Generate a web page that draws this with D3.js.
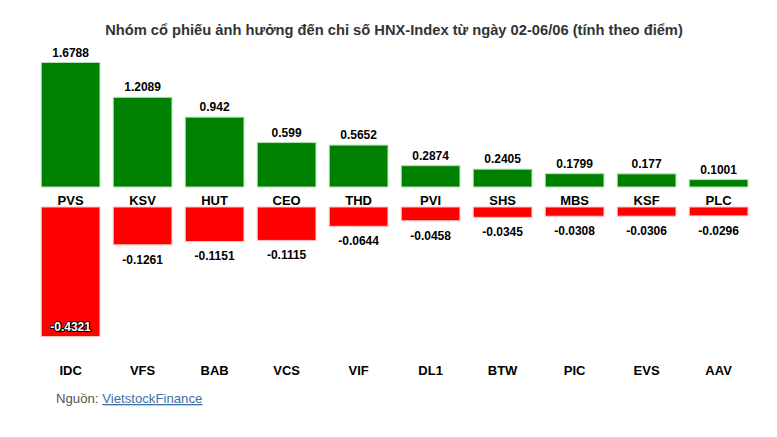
<!DOCTYPE html>
<html>
<head>
<meta charset="utf-8">
<script src="https://cdn.jsdelivr.net/npm/d3@7"></script>
<style>
  body { margin: 0; background: #fff; }
  svg { display: block; font-family: Arial, "Liberation Sans", sans-serif; }
  .src a { fill: #3d6fa8; text-decoration: underline; }
</style>
</head>
<body>
<div id="chart"></div>
<script>
// top gainers / losers on HNX-Index, 02-06/06 (points)
const upTickers = ["PVS", "KSV", "HUT", "CEO", "THD", "PVI", "SHS", "MBS", "KSF", "PLC"]
const upValues = [1.6788, 1.2089, 0.942, 0.599, 0.5652, 0.2874, 0.2405, 0.1799, 0.177, 0.1001]
const downTickers = ["IDC", "VFS", "BAB", "VCS", "VIF", "DL1", "BTW", "PIC", "EVS", "AAV"]
const downValues = [-0.4321, -0.1261, -0.1151, -0.1115, -0.0644, -0.0458, -0.0345, -0.0308, -0.0306, -0.0296]

const title = "Nhóm cổ phiếu ảnh hưởng đến chỉ số HNX-Index từ ngày 02-06/06 (tính theo điểm)"

const W = 777, H = 437

const svg = d3.select("#chart").append("svg")
  .attr("width", W)
  .attr("height", H)

// one band per rank, same slot for the gainer and the loser
const x = d3.scaleBand()
  .domain(d3.range(upTickers.length))
  .range([34.6, 754.6])
  .paddingInner(0.185)
  .paddingOuter(0.0925)

// top half and bottom half have their own scales (like the original)
const yUp = d3.scaleLinear().domain([0, d3.max(upValues)]).range([187, 62.5])
const yDown = d3.scaleLinear().domain([0, d3.max(downValues, d => -d)]).range([207, 336.5])

svg.append("text")
  .attr("x", 394)
  .attr("y", 35)
  .attr("text-anchor", "middle")
  .style("font-size", "14.7px")
  .style("font-weight", "bold")
  .style("fill", "#333")
  .text(title)

// green bars
const up = svg.append("g").attr("id", "up")
up.selectAll("rect")
  .data(upValues)
  .enter()
  .append("rect")
    .attr("x", (d, i) => x(i))
    .attr("width", x.bandwidth())
    .attr("y", d => yUp(d))
    .attr("height", d => yUp(0) - yUp(d))
    .style("fill", "#008000")
    .style("stroke", "#b5dfb5")
    .style("stroke-width", 1)

up.selectAll("text.val")
  .data(upValues)
  .enter()
  .append("text")
    .attr("class", "val")
    .attr("x", (d, i) => x(i) + x.bandwidth() / 2)
    .attr("y", d => yUp(d) - 6)
    .attr("text-anchor", "middle")
    .style("font-size", "12px")
    .style("font-weight", "bold")
    .style("fill", "#000")
    .text(d => d)

up.selectAll("text.tick")
  .data(upTickers)
  .enter()
  .append("text")
    .attr("class", "tick")
    .attr("x", (d, i) => x(i) + x.bandwidth() / 2)
    .attr("y", 205)
    .attr("text-anchor", "middle")
    .style("font-size", "13px")
    .style("font-weight", "bold")
    .style("fill", "#000")
    .text(d => d)

// red bars
const down = svg.append("g").attr("id", "down")
down.selectAll("rect")
  .data(downValues)
  .enter()
  .append("rect")
    .attr("x", (d, i) => x(i))
    .attr("width", x.bandwidth())
    .attr("y", yDown(0))
    .attr("height", d => yDown(-d) - yDown(0))
    .style("fill", "#ff0000")
    .style("stroke", "#ffc0c0")
    .style("stroke-width", 1)

// label goes under the bar, or inside it when there is no room left
const inside = d => yDown(-d) + 19 > 345
down.selectAll("text.val")
  .data(downValues)
  .enter()
  .append("text")
    .attr("class", "val")
    .attr("x", (d, i) => x(i) + x.bandwidth() / 2)
    .attr("y", d => inside(d) ? yDown(-d) - 6 : yDown(-d) + 19)
    .attr("text-anchor", "middle")
    .style("font-size", "12px")
    .style("font-weight", "bold")
    .style("fill", d => inside(d) ? "#fff" : "#000")
    .style("stroke", d => inside(d) ? "#000" : "none")
    .style("stroke-width", 2)
    .style("paint-order", "stroke")
    .style("stroke-linejoin", "round")
    .text(d => d)

down.selectAll("text.tick")
  .data(downTickers)
  .enter()
  .append("text")
    .attr("class", "tick")
    .attr("x", (d, i) => x(i) + x.bandwidth() / 2)
    .attr("y", 375)
    .attr("text-anchor", "middle")
    .style("font-size", "13px")
    .style("font-weight", "bold")
    .style("fill", "#000")
    .text(d => d)

// source line
const src = svg.append("text")
  .attr("class", "src")
  .attr("x", 56)
  .attr("y", 403)
  .style("font-size", "13.2px")
  .style("fill", "#555")
src.append("tspan").text("Nguồn: ")
src.append("a").attr("href", "#")
  .append("tspan").text("VietstockFinance")
</script>
</body>
</html>
